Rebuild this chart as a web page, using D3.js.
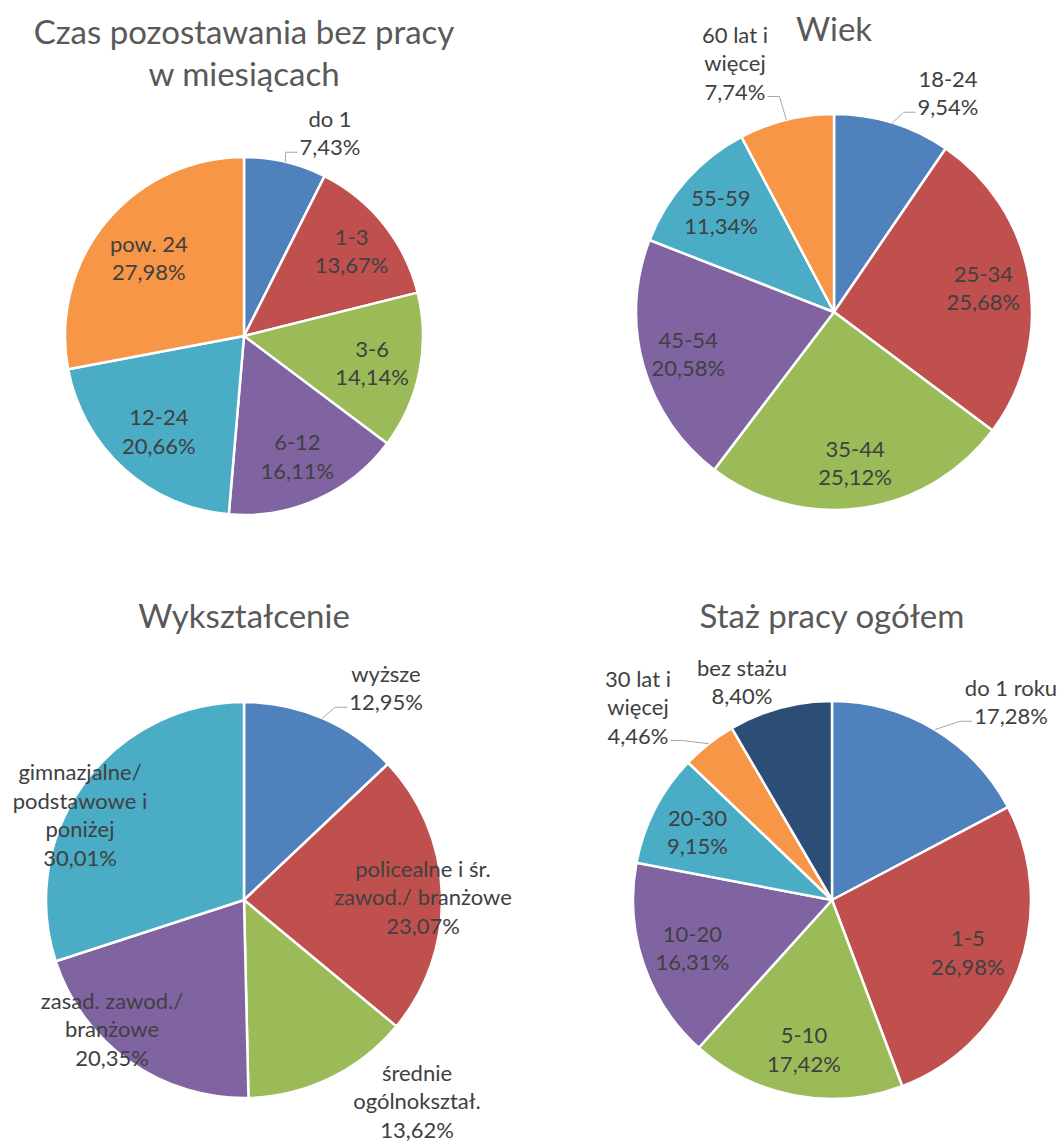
<!DOCTYPE html>
<html>
<head>
<meta charset="utf-8">
<script src="https://cdn.jsdelivr.net/npm/d3@7"></script>
<style>
  body { margin: 0; background: white; }
  text { font-family: Lato, "Open Sans", sans-serif; }
</style>
</head>
<body>
<div id="chart"></div>
<script>
// data (percent)
const czasNames = ['do 1', '1-3', '3-6', '6-12', '12-24', 'pow. 24']
const czasValues = [7.43, 13.67, 14.14, 16.11, 20.66, 27.98]

const wiekNames = ['18-24', '25-34', '35-44', '45-54', '55-59', '60 lat i\nwięcej']
const wiekValues = [9.54, 25.68, 25.12, 20.58, 11.34, 7.74]

const wyksztNames = ['wyższe', 'policealne i śr.\nzawod./ branżowe', 'średnie\nogólnokształ.', 'zasad. zawod./\nbranżowe', 'gimnazjalne/\npodstawowe i\nponiżej']
const wyksztValues = [12.95, 23.07, 13.62, 20.35, 30.01]

const stazNames = ['do 1 roku', '1-5', '5-10', '10-20', '20-30', '30 lat i\nwięcej', 'bez stażu']
const stazValues = [17.28, 26.98, 17.42, 16.31, 9.15, 4.46, 8.40]

const officeColors = ['#4F81BD', '#C0504D', '#9BBB59', '#8064A2', '#4BACC6', '#F79646', '#2C4D75']

const CONFIG = {
    width: 1061,
    height: 1142,
    lineHeight: 28.5,
    labelSize: 22,
    titleSize: 33,
}

const fmt = (v) => d3.format('.2f')(v).replace('.', ',') + '%'

const canvas = d3.select('#chart')
    .append('svg')
    .attr('width', CONFIG.width)
    .attr('height', CONFIG.height)
    .attr('style', 'background-color: white')

function drawPie(names, values, opt) {
    const data = names.map((n, i) => ({ name: n, value: values[i] }))
    const g = canvas.append('g')
        .attr('transform', `translate(${opt.cx}, ${opt.cy})`)

    const color = d3.scaleOrdinal()
        .domain(names)
        .range(officeColors)

    const pie = d3.pie().sort(null).value((d) => d.value)
    const arc = d3.arc().innerRadius(0).outerRadius(opt.r)
    const edge = d3.arc().innerRadius(opt.r).outerRadius(opt.r)
    const arcs = pie(data)

    g.selectAll('path.slice')
        .data(arcs)
        .enter()
        .append('path')
        .classed('slice', true)
        .attr('d', arc)
        .attr('fill', (d) => color(d.data.name))
        .attr('stroke', 'white')
        .attr('stroke-width', 2.5)
        .attr('stroke-linejoin', 'round')

    // title
    canvas.append('text')
        .attr('x', opt.cx)
        .attr('y', opt.titleY)
        .attr('text-anchor', 'middle')
        .attr('dominant-baseline', 'central')
        .attr('font-size', CONFIG.titleSize)
        .attr('fill', '#595959')
        .selectAll('tspan')
        .data(opt.title)
        .enter()
        .append('tspan')
        .attr('x', opt.cx)
        .attr('dy', (d, i) => i === 0 ? 0 : opt.titleGap)
        .text((d) => d)

    // labels: a number = fraction of radius at mid angle, an array = offset from centre
    arcs.forEach((a, i) => {
        const spec = opt.labels[i]
        let pos
        if (Array.isArray(spec)) {
            pos = spec
        } else {
            const mid = (a.startAngle + a.endAngle) / 2
            pos = [Math.sin(mid) * opt.r * spec, -Math.cos(mid) * opt.r * spec]
        }
        const lines = a.data.name.split('\n').concat([fmt(a.data.value)])
        const top = pos[1] - (lines.length - 1) * CONFIG.lineHeight / 2
        const label = g.append('text')
            .attr('text-anchor', 'middle')
            .attr('dominant-baseline', 'central')
            .attr('font-size', CONFIG.labelSize)
            .attr('fill', '#404040')
        const spans = label.selectAll('tspan')
            .data(lines)
            .enter()
            .append('tspan')
            .attr('x', pos[0])
            .attr('y', (d, j) => top + j * CONFIG.lineHeight)
            .text((d) => d)

        const side = opt.leaders[i]
        if (side) {
            const last = spans.nodes()[lines.length - 1]
            const w = last.getComputedTextLength()
            const ly = top + (lines.length - 1) * CONFIG.lineHeight + 6
            const ex = side === 'left' ? pos[0] - w / 2 - 2 : pos[0] + w / 2 + 2
            const elbow = side === 'left' ? ex - 12 : ex + 12
            const start = edge.centroid(a)
            g.insert('polyline', 'text')
                .attr('points', `${start[0]},${start[1]} ${elbow},${ly} ${ex},${ly}`)
                .attr('fill', 'none')
                .attr('stroke', '#a6a6a6')
                .attr('stroke-width', 1)
        }
    })
}

drawPie(czasNames, czasValues, {
    cx: 244, cy: 336, r: 179,
    title: ['Czas pozostawania bez pracy', 'w miesiącach'], titleY: 31, titleGap: 42,
    labels: [[86, -204], 0.77, 0.73, 0.73, 0.71, 0.69],
    leaders: ['left', null, null, null, null, null],
})

drawPie(wiekNames, wiekValues, {
    cx: 834, cy: 312, r: 198,
    title: ['Wiek'], titleY: 28, titleGap: 0,
    labels: [[114, -220], 0.765, 0.765, 0.765, 0.765, [-99, -250]],
    leaders: ['left', null, null, null, null, 'right'],
})

drawPie(wyksztNames, wyksztValues, {
    cx: 244, cy: 900, r: 198,
    title: ['Wykształcenie'], titleY: 615, titleGap: 0,
    labels: [[142, -213], [179, -4], [173, 200], [-132, 128], [-164, -86]],
    leaders: ['left', null, null, null, null],
})

drawPie(stazNames, stazValues, {
    cx: 832, cy: 900, r: 199,
    title: ['Staż pracy ogółem'], titleY: 615, titleGap: 0,
    labels: [[179, -199], 0.73, 0.76, 0.74, 0.76, [-194, -194], [-90, -219]],
    leaders: ['left', null, null, null, null, 'right', null],
})
</script>
</body>
</html>
